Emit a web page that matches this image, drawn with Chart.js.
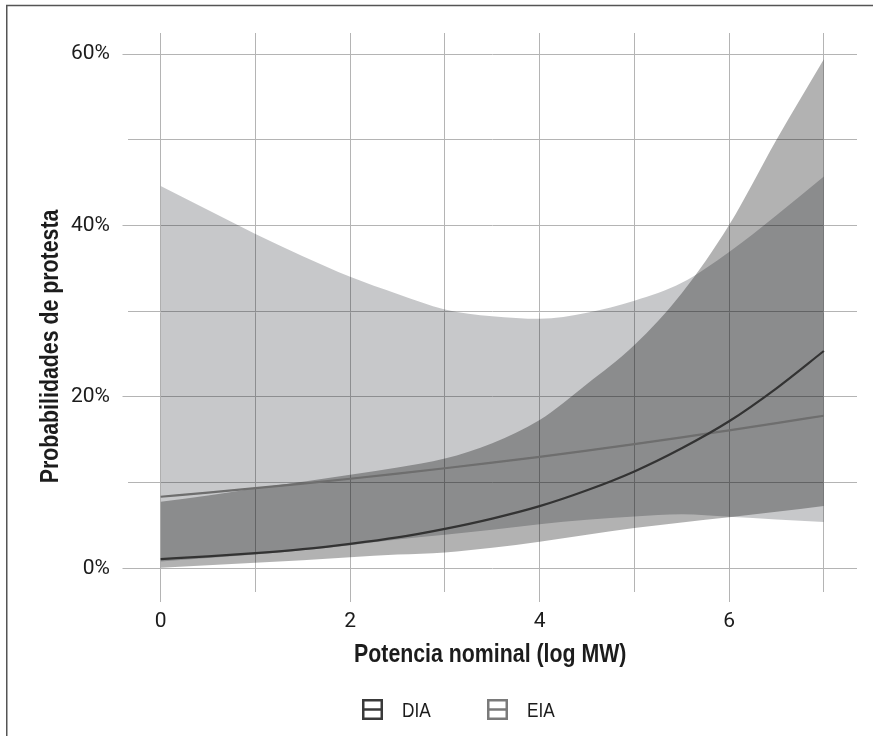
<!DOCTYPE html>
<html><head><meta charset="utf-8">
<script src="https://cdn.jsdelivr.net/npm/chart.js@4.4.1/dist/chart.umd.min.js"></script>
<style>html,body{margin:0;padding:0;background:#fff;}#wrap{width:873px;height:736px;position:relative;}canvas{display:block;}</style>
</head><body><div id="wrap"><canvas id="c" width="873" height="736"></canvas></div>
<script>
// ---- data ----
const potencia = [0,0.5,1,1.5,2,2.5,3,3.5,4,4.5,5,5.5,6,6.5,7];
const diaFit   = [1.08,1.38,1.76,2.23,2.85,3.6,4.6,5.8,7.25,9.1,11.3,14.0,17.15,21.0,25.35];
const diaLower = [0.05,0.35,0.65,0.95,1.3,1.6,1.85,2.4,3.1,3.9,4.7,5.35,5.95,6.6,7.27];
const diaUpper = [7.77,8.5,9.35,10.1,10.9,11.75,12.8,14.6,17.3,21.5,26.05,32.1,40.05,50.0,59.4];
const eiaFit   = [8.35,8.83,9.35,9.88,10.45,11.05,11.67,12.32,13.0,13.72,14.48,15.27,16.1,16.94,17.8];
const eiaLower = [0.8,1.2,1.6,2.1,2.7,3.35,3.9,4.5,5.15,5.65,6.05,6.3,6.0,5.7,5.4];
const eiaUpper = [44.6,41.8,39.0,36.4,34.0,32.0,30.2,29.4,29.1,29.8,31.2,33.3,36.9,41.2,45.7];
const seriesNames = ['DIA','EIA'];
const xTickValues = [0,1,2,3,4,5,6,7];
const xTickLabels = ['0','','2','','4','','6',''];
const yTickValues = [0,10,20,30,40,50,60];
const yTickLabels = ['0%','','20%','','40%','','60%'];
const xTitle = 'Potencia nominal (log MW)';
const yTitle = 'Probabilidades de protesta';

const GRID = '#b4b4b4';
const TXT = '#1c1c1c';
const lineColors = ['#333333', '#6e6e6e'];
const keyColors = ['#3a3a3a', '#7a7a7a'];
const NARROW = 0.82; // condensed look: Liberation Sans squeezed horizontally

const pts = arr => potencia.map((x, i) => ({x: x, y: arr[i]}));
const lineDs = (label, arr, color) => ({label, data: pts(arr), borderColor: color, borderWidth: 2.2,
  pointRadius: 0, fill: false, cubicInterpolationMode: 'monotone'});
const bandDs = (label, arr, fill, bg) => ({label, data: pts(arr), borderColor: 'rgba(0,0,0,0)', borderWidth: 0,
  backgroundColor: bg, pointRadius: 0, fill: fill, cubicInterpolationMode: 'monotone'});

function narrowText(ctx, text, x, y, align) {
  ctx.save();
  ctx.translate(x, y);
  ctx.scale(NARROW, 1);
  ctx.textAlign = align;
  ctx.fillText(text, 0, 0);
  ctx.restore();
}

const decor = {
  id: 'decor',
  afterDraw(chart) {
    const ctx = chart.ctx, ca = chart.chartArea;
    ctx.save();
    // frame (top and left)
    ctx.strokeStyle = '#555555'; ctx.lineWidth = 1.5;
    ctx.beginPath(); ctx.moveTo(6.75, 736); ctx.lineTo(6.75, 5.5); ctx.lineTo(873, 5.5); ctx.stroke();
    // axis titles
    ctx.fillStyle = TXT;
    ctx.font = 'bold 26px "Liberation Sans", Arial, sans-serif';
    ctx.textBaseline = 'alphabetic';
    narrowText(ctx, xTitle, (ca.left + ca.right) / 2 - 2, 662, 'center');
    ctx.save();
    ctx.translate(58, 346.5); ctx.rotate(-Math.PI / 2);
    narrowText(ctx, yTitle, 0, 0, 'center');
    ctx.restore();
    // legend
    const keyX = [362, 487], textX = [402, 527];
    ctx.font = '21px "Liberation Sans", Arial, sans-serif';
    for (let i = 0; i < seriesNames.length; i++) {
      ctx.strokeStyle = keyColors[i]; ctx.lineWidth = 2.5;
      ctx.strokeRect(keyX[i] + 1.25, 699 + 1.25, 18.5, 18.5);
      ctx.beginPath(); ctx.moveTo(keyX[i] + 1, 709.5); ctx.lineTo(keyX[i] + 20, 709.5); ctx.stroke();
      ctx.fillStyle = TXT;
      narrowText(ctx, seriesNames[i], textX[i], 717.3, 'left');
    }
    ctx.restore();
  }
};

function build() {
  new Chart(document.getElementById('c'), {
    type: 'line',
    data: {
      datasets: [
        lineDs(seriesNames[0], diaFit, lineColors[0]),
        lineDs(seriesNames[1], eiaFit, lineColors[1]),
        bandDs('DIA sup', diaUpper, 3, 'rgba(0,0,0,0.30)'),
        bandDs('DIA inf', diaLower, false, 'rgba(0,0,0,0)'),
        bandDs('EIA sup', eiaUpper, 5, 'rgba(19,23,31,0.235)'),
        bandDs('EIA inf', eiaLower, false, 'rgba(0,0,0,0)')
      ]
    },
    options: {
      responsive: false, animation: false, devicePixelRatio: 1,
      layout: {padding: {top: 33, right: 16, bottom: 0, left: 0}},
      plugins: {legend: {display: false}, tooltip: {enabled: false}, title: {display: false},
        filler: {drawTime: 'beforeDatasetsDraw'}},
      scales: {
        x: {
          type: 'linear', min: -0.35, max: 7.35,
          afterBuildTicks: s => { s.ticks = xTickValues.map(v => ({value: v})); },
          afterFit: s => { s.height = 144; },
          border: {display: false},
          grid: {color: GRID, lineWidth: 1, tickLength: 10,
            tickColor: c => (c.tick && xTickLabels[xTickValues.indexOf(c.tick.value)]) ? GRID : 'rgba(0,0,0,0)'},
          ticks: {autoSkip: false, maxRotation: 0, padding: 7, color: TXT,
            font: {family: 'Roboto', size: 21, lineHeight: 1.2},
            callback: v => { const i = xTickValues.indexOf(v); return i >= 0 ? xTickLabels[i] : ''; }}
        },
        y: {
          type: 'linear', min: -2.765, max: 62.45,
          afterBuildTicks: s => { s.ticks = yTickValues.map(v => ({value: v})); },
          afterFit: s => { s.width = 127.5; },
          border: {display: false},
          grid: {color: GRID, lineWidth: 1, tickLength: 5,
            tickColor: c => (c.tick && yTickLabels[yTickValues.indexOf(c.tick.value)]) ? GRID : 'rgba(0,0,0,0)'},
          ticks: {autoSkip: false, padding: 12.5, color: TXT,
            font: {family: 'Roboto', size: 21, lineHeight: 1.2},
            callback: v => { const i = yTickValues.indexOf(v); return i >= 0 ? yTickLabels[i] : ''; }}
        }
      }
    },
    plugins: [decor]
  });
}
const fontLoads = [
  document.fonts.load('21px "Roboto"'),
  document.fonts.load('21px "Liberation Sans"'),
  document.fonts.load('bold 26px "Liberation Sans"')
];
Promise.race([Promise.all(fontLoads), new Promise(r => setTimeout(r, 800))]).then(build, build);
</script>
</body></html>
